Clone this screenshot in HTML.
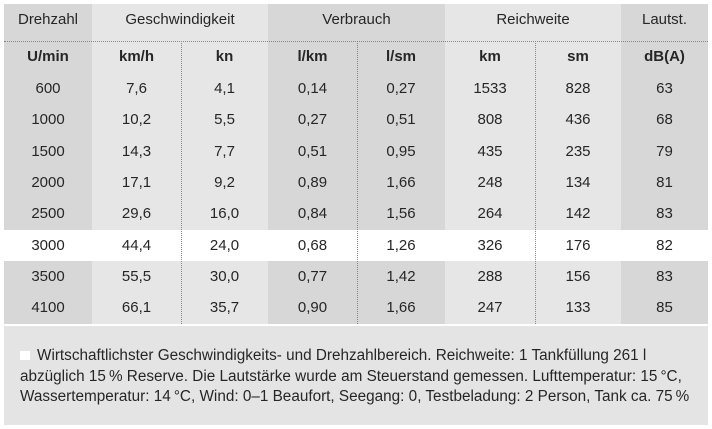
<!DOCTYPE html>
<html><head><meta charset="utf-8"><style>
body{margin:0;width:712px;height:429px;background:#fff;position:relative;overflow:hidden;font-family:"Liberation Sans",sans-serif;color:#262626;}
.c{position:absolute;}
.t{position:absolute;text-align:center;font-size:15px;line-height:20px;}
.b{font-weight:bold;}
</style></head><body>
<div class="c" style="left:4px;top:4px;width:88px;height:320px;background:#d7d7d7"></div>
<div class="c" style="left:92px;top:4px;width:176px;height:320px;background:#e6e6e6"></div>
<div class="c" style="left:268px;top:4px;width:177px;height:320px;background:#d7d7d7"></div>
<div class="c" style="left:445px;top:4px;width:176px;height:320px;background:#e6e6e6"></div>
<div class="c" style="left:621px;top:4px;width:87px;height:320px;background:#d7d7d7"></div>
<div class="c" style="left:4px;top:230px;width:704px;height:31px;background:#fff"></div>
<div class="c" style="left:4px;top:41px;width:704px;border-top:1px dotted #888"></div>
<div class="c" style="left:181px;top:41px;height:283px;border-left:1px dotted #888"></div>
<div class="c" style="left:357px;top:41px;height:283px;border-left:1px dotted #888"></div>
<div class="c" style="left:535px;top:41px;height:283px;border-left:1px dotted #888"></div>
<div class="c" style="left:4px;top:326px;width:704px;height:99px;background:#e4e4e4"></div>
<div id="g"></div>
<div class="c" style="left:20px;top:351px;width:10px;height:9px;background:#fff"></div>
<div class="c" style="left:20px;top:346px;font-size:15.3px;line-height:20.5px;width:690px;white-space:nowrap">&nbsp;&nbsp;&nbsp; Wirtschaftlichster Geschwindigkeits- und Drehzahlbereich. Reichweite: 1 Tankfüllung 261 l<br>abzüglich 15&#8201;% Reserve. Die Lautstärke wurde am Steuerstand gemessen. Lufttemperatur: 15&#8201;°C,<br>Wassertemperatur: 14&#8201;°C, Wind: 0–1 Beaufort, Seegang: 0, Testbeladung: 2 Person, Tank ca. 75&#8201;%</div>
<script>
var cols=[[4,88],[92,89],[181,87],[268,89],[357,88],[445,90],[535,86],[621,87]];
var g='';
function t(x,w,y,s,b){g+='<div class="t'+(b?' b':'')+'" style="left:'+x+'px;width:'+w+'px;top:'+(y-10)+'px">'+s+'</div>';}
t(4,88,20,'Drehzahl');t(92,176,20,'Geschwindigkeit');t(268,177,20,'Verbrauch');t(445,176,20,'Reichweite');t(621,87,20,'Lautst.');
var u=['U/min','km/h','kn','l/km','l/sm','km','sm','dB(A)'];
u.forEach(function(s,i){t(cols[i][0],cols[i][1],57,s,1);});
var d=[['600','7,6','4,1','0,14','0,27','1533','828','63'],['1000','10,2','5,5','0,27','0,51','808','436','68'],['1500','14,3','7,7','0,51','0,95','435','235','79'],['2000','17,1','9,2','0,89','1,66','248','134','81'],['2500','29,6','16,0','0,84','1,56','264','142','83'],['3000','44,4','24,0','0,68','1,26','326','176','82'],['3500','55,5','30,0','0,77','1,42','288','156','83'],['4100','66,1','35,7','0,90','1,66','247','133','85']];
d.forEach(function(r,j){r.forEach(function(s,i){t(cols[i][0],cols[i][1],89+j*31.3,s,0);});});
document.getElementById('g').innerHTML=g;
</script>
</body></html>
